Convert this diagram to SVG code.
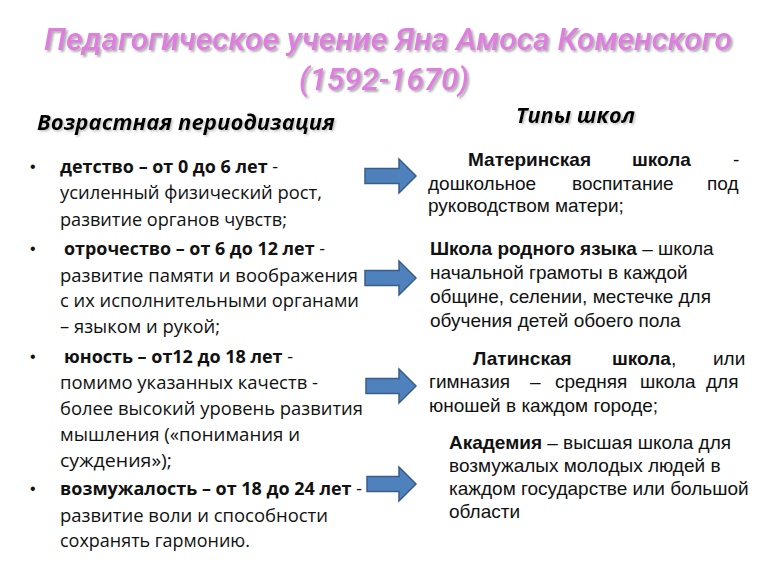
<svg xmlns="http://www.w3.org/2000/svg" width="770" height="576" viewBox="0 0 770 576">
<defs>
<filter id="sh" filterUnits="userSpaceOnUse" x="0" y="0" width="770" height="576">
<feDropShadow dx="2" dy="2" stdDeviation="1" flood-color="#808080" flood-opacity="0.65"/>
</filter>
<filter id="sh2" filterUnits="userSpaceOnUse" x="0" y="0" width="770" height="576">
<feDropShadow dx="1.5" dy="1.5" stdDeviation="0.8" flood-color="#909090" flood-opacity="0.55"/>
</filter>
</defs>
<style>
.title{font-family:Roboto,"Open Sans","Noto Sans",sans-serif;font-style:italic;font-weight:500;font-size:32px;fill:#DE7EDE}
.head{font-family:"Open Sans","Noto Sans",sans-serif;font-style:italic;font-weight:700;font-size:21px;fill:#000}
.l{font-family:"Open Sans","Noto Sans",sans-serif;font-size:18px;fill:#111}
.r{font-family:"Liberation Sans",Arial,sans-serif;font-size:19px;fill:#111}
.b{font-weight:700}
.bul{font-family:"Liberation Sans",Arial,sans-serif;font-size:16px;fill:#111}
.arr{fill:#4F81BD;stroke:#385D8A;stroke-width:1.5;stroke-linejoin:miter}
</style>
<rect width="770" height="576" fill="#ffffff"/>
<g id="title" filter="url(#sh)">
<text class="title" x="44" y="50" textLength="688" lengthAdjust="spacingAndGlyphs">Педагогическое учение Яна Амоса Коменского</text>
<text class="title" x="299" y="90" textLength="170" lengthAdjust="spacingAndGlyphs">(1592-1670)</text>
</g>
<g id="heading-left" filter="url(#sh2)">
<text class="head" x="37" y="130" textLength="298" lengthAdjust="spacingAndGlyphs">Возрастная периодизация</text>
</g>
<g id="heading-right" filter="url(#sh2)">
<text class="head" x="516" y="123" textLength="119" lengthAdjust="spacingAndGlyphs">Типы школ</text>
</g>
<g id="age-childhood">
<text class="bul" x="30" y="172">•</text>
<text class="l" x="60" y="173" textLength="218" lengthAdjust="spacingAndGlyphs"><tspan class="b">детство – от 0 до 6 лет</tspan> -</text>
<text class="l" x="60" y="199" textLength="262" lengthAdjust="spacingAndGlyphs">усиленный физический рост,</text>
<text class="l" x="60" y="226" textLength="227" lengthAdjust="spacingAndGlyphs">развитие органов чувств;</text>
</g>
<g id="age-adolescence">
<text class="bul" x="30" y="254">•</text>
<text class="l" x="64" y="255" textLength="261" lengthAdjust="spacingAndGlyphs"><tspan class="b">отрочество – от 6 до 12 лет</tspan> -</text>
<text class="l" x="60" y="282" textLength="298" lengthAdjust="spacingAndGlyphs">развитие памяти и воображения</text>
<text class="l" x="60" y="307" textLength="299" lengthAdjust="spacingAndGlyphs">с их исполнительными органами</text>
<text class="l" x="60" y="333" textLength="160" lengthAdjust="spacingAndGlyphs">– языком и рукой;</text>
</g>
<g id="age-youth">
<text class="bul" x="30" y="362">•</text>
<text class="l" x="64" y="363" textLength="229" lengthAdjust="spacingAndGlyphs"><tspan class="b">юность – от12 до 18 лет</tspan> -</text>
<text class="l" x="60" y="389" textLength="258" lengthAdjust="spacingAndGlyphs">помимо указанных качеств -</text>
<text class="l" x="60" y="415" textLength="303" lengthAdjust="spacingAndGlyphs">более высокий уровень развития</text>
<text class="l" x="60" y="441" textLength="240" lengthAdjust="spacingAndGlyphs">мышления («понимания и</text>
<text class="l" x="60" y="467" textLength="112" lengthAdjust="spacingAndGlyphs">суждения»);</text>
</g>
<g id="age-maturity">
<text class="bul" x="30" y="494">•</text>
<text class="l" x="60" y="495" textLength="302" lengthAdjust="spacingAndGlyphs"><tspan class="b">возмужалость – от 18 до 24 лет</tspan> -</text>
<text class="l" x="60" y="522" textLength="268" lengthAdjust="spacingAndGlyphs">развитие воли и способности</text>
<text class="l" x="60" y="547" textLength="190" lengthAdjust="spacingAndGlyphs">сохранять гармонию.</text>
</g>
<g id="school-maternal">
<text class="r b" x="468" y="166">Материнская</text>
<text class="r b" x="632" y="166">школа</text>
<text class="r" x="733" y="166">-</text>
<text class="r" x="428" y="190">дошкольное</text>
<text class="r" x="572" y="190">воспитание</text>
<text class="r" x="707" y="190">под</text>
<text class="r" x="428" y="212">руководством матери;</text>
</g>
<g id="school-native">
<text class="r" x="430" y="255"><tspan class="b">Школа родного языка</tspan> – школа</text>
<text class="r" x="430" y="279">начальной грамоты в каждой</text>
<text class="r" x="430" y="303">общине, селении, местечке для</text>
<text class="r" x="430" y="327">обучения детей обоего пола</text>
</g>
<g id="school-latin">
<text class="r b" x="473" y="365">Латинская</text>
<text class="r" x="612" y="365"><tspan class="b">школа</tspan>,</text>
<text class="r" x="713" y="365">или</text>
<text class="r" x="429" y="388">гимназия</text>
<text class="r" x="530" y="388">–</text>
<text class="r" x="555" y="388">средняя</text>
<text class="r" x="640" y="388">школа</text>
<text class="r" x="706" y="388">для</text>
<text class="r" x="429" y="412">юношей в каждом городе;</text>
</g>
<g id="school-academy">
<text class="r" x="449" y="449"><tspan class="b">Академия</tspan> – высшая школа для</text>
<text class="r" x="449" y="472">возмужалых молодых людей в</text>
<text class="r" x="449" y="495">каждом государстве или большой</text>
<text class="r" x="449" y="518">области</text>
</g>
<g id="connectors">
<path class="arr" d="M365,168.5 H399 V159 L416,176 L399,193 V183.5 H365 Z"/>
<path class="arr" d="M365,270.5 H399 V261 L416,278 L399,295 V285.5 H365 Z"/>
<path class="arr" d="M366,378.5 H399 V369 L416,386 L399,403 V393.5 H366 Z"/>
<path class="arr" d="M367,476.5 H399 V467 L416,484 L399,501 V491.5 H367 Z"/>
</g>
</svg>
